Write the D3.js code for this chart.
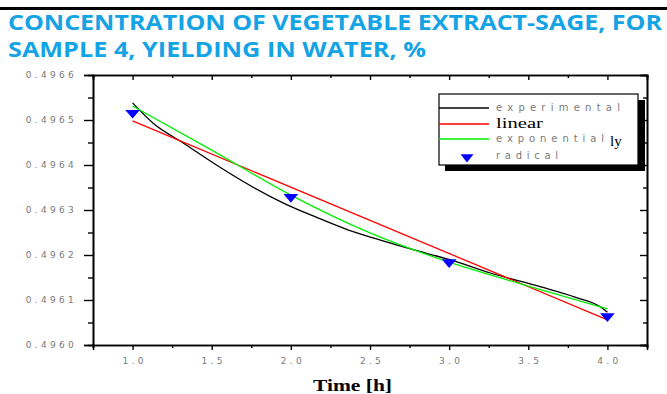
<!DOCTYPE html>
<html>
<head>
<meta charset="utf-8">
<script src="https://cdn.jsdelivr.net/npm/d3@7"></script>
<style>
  body { margin: 0; background: #fff; }
  svg { display: block; }
</style>
</head>
<body>
<figure id="chart" style="margin:0"></figure>
<script>
// time [h] vs concentration
const expTime = [1.0, 1.13, 1.32, 1.53, 1.74, 1.95, 2.16, 2.36, 2.52, 2.75, 3.01, 3.26, 3.58, 3.8, 3.96, 4.0];
const expConc = [0.496538, 0.496493, 0.496449, 0.496400, 0.496355, 0.496316, 0.496284, 0.496256, 0.496238, 0.496214, 0.496189, 0.496160, 0.496129, 0.496106, 0.496084, 0.496073];

const linTime = [1.0, 4.0];
const linConc = [0.496498, 0.496056];

const expoTime = [1.0, 1.5, 2.0, 2.5, 3.0, 3.5, 4.0];
const expoConc = [0.496531, 0.496433, 0.496333, 0.496249, 0.496184, 0.496131, 0.496080];

const radTime = [1.0, 2.0, 3.0, 4.0];
const radConc = [0.496516, 0.496329, 0.496184, 0.496064];

const xTicks = [1.0, 1.5, 2.0, 2.5, 3.0, 3.5, 4.0];
const yTicks = [0.4960, 0.4961, 0.4962, 0.4963, 0.4964, 0.4965, 0.4966];

const legendNames = ["experimental", "linear", "exponential", "radical"];

const W = 667, H = 394;
const box = {left: 93, right: 647, top: 75, bottom: 345};

const svg = d3.select("figure#chart")
  .append("svg")
  .attr("width", W)
  .attr("height", H);

// top black rule
svg.append("rect").attr("x", 0).attr("y", 7).attr("width", W).attr("height", 3).attr("fill", "#000");

// title
const titleLines = ["CONCENTRATION OF VEGETABLE EXTRACT-SAGE, FOR", "SAMPLE 4, YIELDING IN WATER, %"];
const titleLen = [654, 418];
svg.selectAll("text.title")
  .data(titleLines)
  .enter()
  .append("text")
  .attr("class", "title")
  .attr("x", 8)
  .attr("y", (d, i) => 30 + i * 27)
  .attr("textLength", (d, i) => titleLen[i])
  .attr("lengthAdjust", "spacingAndGlyphs")
  .style("font-family", "'Open Sans', sans-serif")
  .style("font-weight", "700")
  .style("font-size", "21px")
  .attr("fill", "#14a3e4")
  .text(d => d);

const x = d3.scaleLinear().domain([0.75, 4.25]).range([box.left, box.right]);
const y = d3.scaleLinear().domain([0.4960, 0.4966]).range([box.bottom, box.top]);

const xMinor = d3.range(0.75, 4.26, 0.25).filter(v => !xTicks.some(t => Math.abs(t - v) < 1e-6));
const yMinor = d3.range(0.49605, 0.4966, 0.0001);

const labelStyle = sel => sel
  .style("font-family", "'DejaVu Sans', sans-serif")
  .style("font-size", "9px")
  .style("letter-spacing", "3.3px")
  .attr("fill", "#7a7a7a");

// bottom axis
const gx = svg.append("g").attr("transform", `translate(0,${box.bottom})`)
  .call(d3.axisBottom(x).tickValues(xTicks).tickSize(5).tickFormat(d3.format(".1f")));
gx.selectAll("text").attr("dy", "1.2em").attr("dx", "1.5px").call(labelStyle);
svg.append("g").attr("transform", `translate(0,${box.bottom})`)
  .call(d3.axisBottom(x).tickValues(xMinor).tickSize(3).tickFormat(""));

// left axis
const gy = svg.append("g").attr("transform", `translate(${box.left},0)`)
  .call(d3.axisLeft(y).tickValues(yTicks).tickSize(9).tickPadding(7).tickFormat(d3.format(".4f")));
gy.selectAll("text").call(labelStyle);
svg.append("g").attr("transform", `translate(${box.left},0)`)
  .call(d3.axisLeft(y).tickValues(yMinor).tickSize(5).tickFormat(""));

// mirrored top / right axes, ticks inward
svg.append("g").attr("transform", `translate(0,${box.top})`)
  .call(d3.axisTop(x).tickValues(xTicks).tickSize(-5).tickFormat(""));
svg.append("g").attr("transform", `translate(0,${box.top})`)
  .call(d3.axisTop(x).tickValues(xMinor).tickSize(-3).tickFormat(""));
svg.append("g").attr("transform", `translate(${box.right},0)`)
  .call(d3.axisRight(y).tickValues(yTicks).tickSize(-7).tickFormat(""));
svg.append("g").attr("transform", `translate(${box.right},0)`)
  .call(d3.axisRight(y).tickValues(yMinor).tickSize(-4).tickFormat(""));

svg.selectAll(".domain").attr("stroke", "#000").attr("stroke-width", 1.6);
svg.selectAll(".tick line").attr("stroke", "#000").attr("stroke-width", 1.4);

// x axis title
svg.append("text")
  .attr("x", 313)
  .attr("y", 391)
  .attr("textLength", 79)
  .attr("lengthAdjust", "spacingAndGlyphs")
  .style("font-family", "'Liberation Serif', serif")
  .style("font-weight", "700")
  .style("font-size", "16px")
  .attr("fill", "#000")
  .text("Time [h]");

// curves
const line = d3.line().x(d => x(d[0])).y(d => y(d[1]));
const series = [
  {t: expTime, v: expConc, color: "#000000", curve: d3.curveMonotoneX},
  {t: linTime, v: linConc, color: "#ff0000", curve: d3.curveLinear},
  {t: expoTime, v: expoConc, color: "#00ee00", curve: d3.curveMonotoneX}
];
series.forEach(s => {
  svg.append("path")
    .datum(s.t.map((t, i) => [t, s.v[i]]))
    .attr("fill", "none")
    .attr("stroke", s.color)
    .attr("stroke-width", 1.3)
    .attr("d", line.curve(s.curve));
});

// radical markers: downward triangles
const tri = d3.symbol().type(d3.symbolTriangle).size(60);
svg.selectAll("path.rad")
  .data(radTime.map((t, i) => [t, radConc[i]]))
  .enter()
  .append("path")
  .attr("class", "rad")
  .attr("d", tri)
  .attr("transform", d => `translate(${x(d[0])},${y(d[1])}) rotate(180) scale(1.25,0.85)`)
  .attr("fill", "#0000ff");

// legend
const lg = svg.append("g");
lg.append("rect").attr("x", 445).attr("y", 100).attr("width", 200).attr("height", 71).attr("fill", "#000");
lg.append("rect").attr("x", 439).attr("y", 94).attr("width", 199).attr("height", 71)
  .attr("fill", "#fff").attr("stroke", "#000").attr("stroke-width", 1.2);

const legColors = ["#000000", "#ff0000", "#00ee00"];
const legLineY = [108, 124, 139];
legColors.forEach((c, i) => {
  lg.append("line").attr("x1", 439).attr("x2", 489)
    .attr("y1", legLineY[i]).attr("y2", legLineY[i])
    .attr("stroke", c).attr("stroke-width", 1.3);
});
lg.append("path").attr("d", tri)
  .attr("transform", "translate(467,157) rotate(180) scale(1.1,0.8)")
  .attr("fill", "#0000ff");

const legY = [111, 128, 142, 159];
const legLen = [124, 47, 108, 62];
lg.selectAll("text.leg")
  .data(legendNames)
  .enter()
  .append("text")
  .attr("class", "leg")
  .attr("x", 496)
  .attr("y", (d, i) => legY[i])
  .attr("textLength", (d, i) => legLen[i])
  .attr("lengthAdjust", (d, i) => i === 1 ? "spacingAndGlyphs" : "spacing")
  .style("font-family", (d, i) => i === 1 ? "'Liberation Serif', serif" : "'DejaVu Sans', sans-serif")
  .style("font-size", (d, i) => i === 1 ? "15px" : "10px")
  .attr("fill", (d, i) => i === 1 ? "#000" : "#7a7a7a")
  .text(d => d);
lg.append("text")
  .attr("x", 610).attr("y", 146)
  .style("font-family", "'Liberation Serif', serif")
  .style("font-size", "15px")
  .attr("fill", "#000")
  .text("ly");
</script>
</body>
</html>
